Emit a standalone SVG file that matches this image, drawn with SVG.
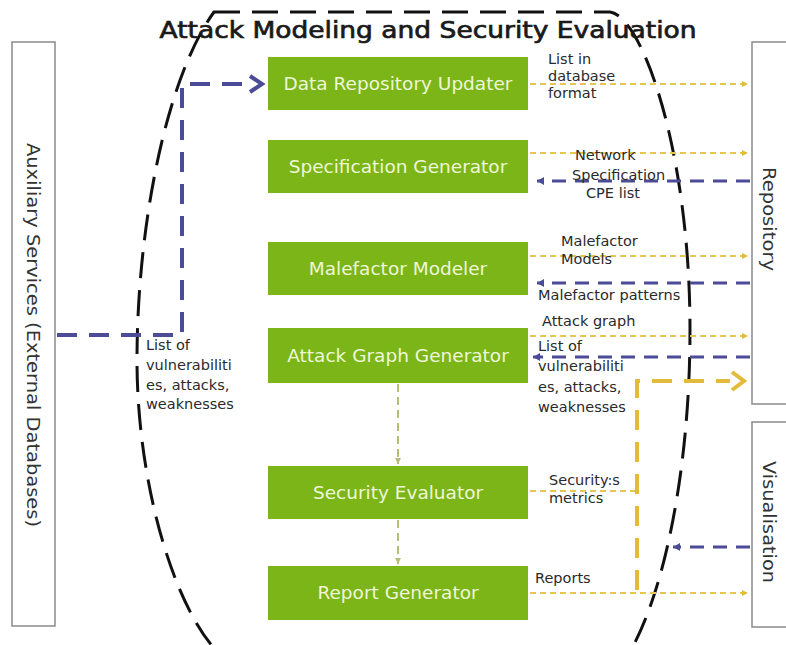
<svg xmlns="http://www.w3.org/2000/svg" width="786" height="645" viewBox="0 0 786 645">
  <style>
    .side { fill: #ffffff; stroke: #8a8a8a; stroke-width: 1.5; }
    .side-label { font-family: "DejaVu Sans", "Liberation Sans", sans-serif; font-size: 18px; fill: #333333; }
    .module rect { fill: #7cb518; }
    .module text { font-family: "DejaVu Sans", "Liberation Sans", sans-serif; font-size: 18.5px; fill: #eef7d8; text-anchor: middle; }
    .lbl { font-family: "DejaVu Sans", "Liberation Sans", sans-serif; font-size: 14.5px; fill: #2a2a2a; }
    .title { font-family: "DejaVu Sans", "Liberation Sans", sans-serif; font-size: 23px; fill: #1a1a1a; stroke: #1a1a1a; stroke-width: 0.7; }
    .out { fill: none; stroke: #e6c550; stroke-width: 2; stroke-dasharray: 6 4; }
    .in { fill: none; stroke: #4b4b98; stroke-width: 3; stroke-dasharray: 14 9; }
    .thick-yel { fill: none; stroke: #e2bb3a; stroke-width: 4; stroke-dasharray: 20 12; }
    .thick-blue { fill: none; stroke: #4b4b98; stroke-width: 4; stroke-dasharray: 20 12; }
    .flow { fill: none; stroke: #b8bc7a; stroke-width: 2; stroke-dasharray: 8 5; }
    .boundary { fill: none; stroke: #111111; stroke-width: 3; stroke-dasharray: 26 12; }
  </style>
  <defs>
    <marker id="yel-tip" markerWidth="8" markerHeight="8" refX="6" refY="4" orient="auto" markerUnits="userSpaceOnUse">
      <path d="M0,1 L6,4 L0,7 Z" fill="#e2bb3a"/>
    </marker>
    <marker id="blue-tip" markerWidth="10" markerHeight="10" refX="7" refY="5" orient="auto" markerUnits="userSpaceOnUse">
      <path d="M0,1 L7,5 L0,9 Z" fill="#4b4b98"/>
    </marker>
    <marker id="flow-tip" markerWidth="8" markerHeight="8" refX="6" refY="4" orient="auto" markerUnits="userSpaceOnUse">
      <path d="M0,1 L6,4 L0,7 Z" fill="#b8bc7a"/>
    </marker>
  </defs>

  <rect width="786" height="645" fill="#ffffff"/>

  <!-- outer boundary of the attack modeling component -->
  <path class="boundary" d="M 214 12 L 610 12 C 642 16 690 150 690 330 C 690 470 664 590 632 648 L 214 648 C 172 600 137 480 137 360 C 137 230 165 80 214 12 Z"/>

  <text class="title" x="428" y="38" text-anchor="middle" textLength="537" lengthAdjust="spacingAndGlyphs">Attack Modeling and Security Evaluation</text>

  <!-- external boxes -->
  <g id="auxiliary-services">
    <rect class="side" x="12" y="42" width="43" height="584"/>
    <text class="side-label" transform="translate(27,335) rotate(90)" text-anchor="middle" textLength="384" lengthAdjust="spacingAndGlyphs">Auxiliary Services (External Databases)</text>
  </g>
  <g id="repository">
    <rect class="side" x="752" y="42" width="40" height="362"/>
    <text class="side-label" transform="translate(763,219) rotate(90)" text-anchor="middle" textLength="104" lengthAdjust="spacingAndGlyphs">Repository</text>
  </g>
  <g id="visualisation">
    <rect class="side" x="752" y="422" width="40" height="205"/>
    <text class="side-label" transform="translate(763,522) rotate(90)" text-anchor="middle" textLength="122" lengthAdjust="spacingAndGlyphs">Visualisation</text>
  </g>

  <!-- modules -->
  <g id="data-repository-updater" class="module">
    <rect x="268" y="57" width="260" height="53"/>
    <text x="398" y="90">Data Repository Updater</text>
  </g>
  <g id="specification-generator" class="module">
    <rect x="268" y="140" width="260" height="53"/>
    <text x="398" y="173">Specification Generator</text>
  </g>
  <g id="malefactor-modeler" class="module">
    <rect x="268" y="242" width="260" height="53"/>
    <text x="398" y="275">Malefactor Modeler</text>
  </g>
  <g id="attack-graph-generator" class="module">
    <rect x="268" y="328" width="260" height="55"/>
    <text x="398" y="362">Attack Graph Generator</text>
  </g>
  <g id="security-evaluator" class="module">
    <rect x="268" y="466" width="260" height="53"/>
    <text x="398" y="499">Security Evaluator</text>
  </g>
  <g id="report-generator" class="module">
    <rect x="268" y="566" width="260" height="54"/>
    <text x="398" y="599">Report Generator</text>
  </g>

  <!-- connectors -->
  <g id="connectors">
    <!-- external databases to updater -->
    <path class="thick-blue" d="M 57 335 L 182 335 L 182 84 L 250 84"/>
    <path d="M 250 76 L 262 84 L 250 92" fill="none" stroke="#4b4b98" stroke-width="4"/>

    <!-- module outputs to repository -->
    <path class="out" d="M 530 84 L 748 84" marker-end="url(#yel-tip)"/>
    <path class="out" d="M 530 153 L 748 153" marker-end="url(#yel-tip)"/>
    <path class="out" d="M 530 256 L 748 256" marker-end="url(#yel-tip)"/>
    <path class="out" d="M 530 336 L 748 336" marker-end="url(#yel-tip)"/>

    <!-- repository inputs to modules -->
    <path class="in" d="M 750 181 L 537 181" marker-end="url(#blue-tip)"/>
    <path class="in" d="M 750 283 L 537 283" marker-end="url(#blue-tip)"/>
    <path class="in" d="M 750 357 L 533 357" marker-end="url(#blue-tip)"/>

    <!-- visualisation feedback -->
    <path class="in" d="M 750 547 L 673 547" marker-end="url(#blue-tip)"/>

    <!-- pipeline between modules -->
    <path class="flow" d="M 398 384 L 398 464" marker-end="url(#flow-tip)"/>
    <path class="flow" d="M 398 520 L 398 564" marker-end="url(#flow-tip)"/>

    <!-- metrics and reports -->
    <path class="out" d="M 530 491 L 637 491"/>
    <path class="out" d="M 530 593 L 748 593" marker-end="url(#yel-tip)"/>
    <path class="thick-yel" d="M 637 590 L 637 381 L 730 381"/>
    <path d="M 732 372 L 744 381 L 732 390" fill="none" stroke="#e2bb3a" stroke-width="4"/>
  </g>

  <!-- connector labels -->
  <g id="labels">
    <text class="lbl" x="548" y="64">List in</text>
    <text class="lbl" x="548" y="81">database</text>
    <text class="lbl" x="548" y="98">format</text>

    <text class="lbl" x="575" y="160">Network</text>
    <text class="lbl" x="572" y="180">Specification</text>
    <text class="lbl" x="586" y="198">CPE list</text>

    <text class="lbl" x="561" y="246">Malefactor</text>
    <text class="lbl" x="561" y="264">Models</text>
    <text class="lbl" x="538" y="300">Malefactor patterns</text>

    <text class="lbl" x="542" y="326">Attack graph</text>
    <text class="lbl" x="538" y="351">List of</text>
    <text class="lbl" x="538" y="371">vulnerabiliti</text>
    <text class="lbl" x="538" y="392">es, attacks,</text>
    <text class="lbl" x="538" y="412">weaknesses</text>

    <text class="lbl" x="146" y="350">List of</text>
    <text class="lbl" x="146" y="370">vulnerabiliti</text>
    <text class="lbl" x="146" y="390">es, attacks,</text>
    <text class="lbl" x="146" y="409">weaknesses</text>

    <text class="lbl" x="549" y="485">Security:s</text>
    <text class="lbl" x="549" y="503">metrics</text>
    <text class="lbl" x="535" y="583">Reports</text>
  </g>
</svg>
